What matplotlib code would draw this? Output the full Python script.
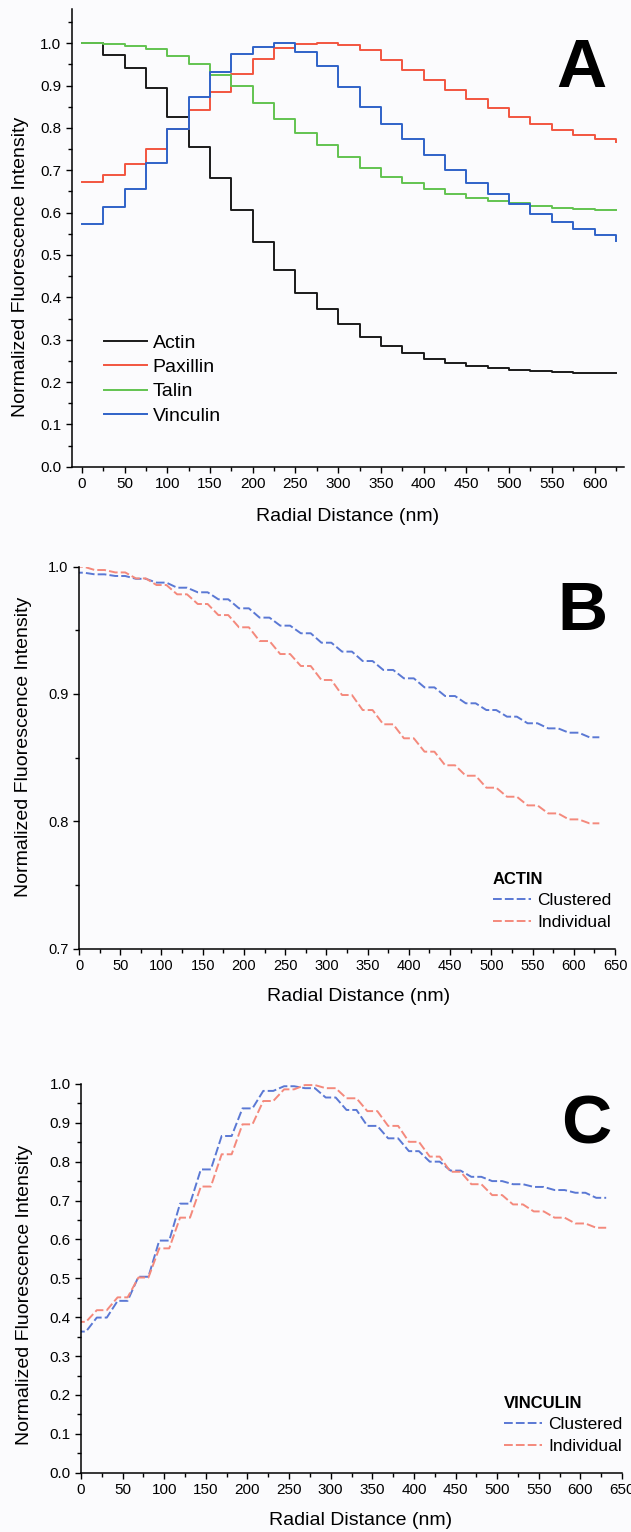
import numpy as np
import matplotlib
matplotlib.use("Agg")
import matplotlib.pyplot as plt
from matplotlib.ticker import MultipleLocator

plt.rcParams['font.family'] = ['Liberation Sans', 'DejaVu Sans']

# -------------------------------
# Data
# -------------------------------
radial = np.arange(0, 626, 25)

# Panel A
actin = [1.0, 0.972, 0.941, 0.894, 0.827, 0.756, 0.681, 0.606, 0.530, 0.465,
         0.411, 0.372, 0.337, 0.307, 0.285, 0.269, 0.255, 0.246, 0.238, 0.232,
         0.228, 0.225, 0.223, 0.222, 0.221, 0.221]
paxillin = [0.673, 0.689, 0.714, 0.750, 0.797, 0.842, 0.886, 0.927, 0.962, 0.988,
            0.998, 1.0, 0.997, 0.984, 0.960, 0.937, 0.913, 0.890, 0.868, 0.846,
            0.827, 0.809, 0.795, 0.783, 0.775, 0.767]
talin = [1.0, 0.998, 0.994, 0.987, 0.971, 0.950, 0.926, 0.898, 0.860, 0.821,
         0.789, 0.760, 0.732, 0.706, 0.685, 0.669, 0.656, 0.644, 0.635, 0.628,
         0.622, 0.616, 0.612, 0.609, 0.607, 0.606]
vinculin = [0.573, 0.614, 0.657, 0.717, 0.797, 0.874, 0.931, 0.975, 0.992, 1.0,
            0.980, 0.946, 0.896, 0.850, 0.809, 0.773, 0.735, 0.701, 0.671, 0.644,
            0.620, 0.597, 0.578, 0.561, 0.547, 0.534]

# Panel B (actin)
actin_clustered = [0.9953, 0.9940, 0.9927, 0.9905, 0.9875, 0.9835, 0.9799, 0.9744,
                   0.9673, 0.9600, 0.9537, 0.9477, 0.9403, 0.9333, 0.9259, 0.9189,
                   0.9123, 0.9052, 0.8984, 0.8927, 0.8874, 0.8822, 0.8770, 0.8730,
                   0.8696, 0.8660]
actin_individual = [1.0, 0.9974, 0.9955, 0.9908, 0.9856, 0.9783, 0.9707, 0.9620,
                    0.9524, 0.9416, 0.9314, 0.9220, 0.9110, 0.8992, 0.8874, 0.8762,
                    0.8652, 0.8547, 0.8440, 0.8358, 0.8264, 0.8193, 0.8125, 0.8062,
                    0.8015, 0.7984]

# Panel C (vinculin)
vinc_clustered = [0.363, 0.399, 0.442, 0.504, 0.597, 0.692, 0.780, 0.866, 0.937,
                  0.982, 0.994, 0.989, 0.965, 0.933, 0.892, 0.860, 0.827, 0.800,
                  0.777, 0.761, 0.750, 0.742, 0.735, 0.727, 0.720, 0.707]
vinc_individual = [0.388, 0.418, 0.451, 0.502, 0.577, 0.656, 0.736, 0.819, 0.896,
                   0.956, 0.986, 0.997, 0.989, 0.963, 0.930, 0.892, 0.851, 0.813,
                   0.774, 0.742, 0.714, 0.690, 0.672, 0.656, 0.641, 0.630]


def plateau(x, y, w=6):
    # each point drawn as a short flat segment, joined to the next one
    x = np.asarray(x, dtype=float)
    xs = np.column_stack([x - w, x + w]).ravel()
    ys = np.repeat(np.asarray(y, dtype=float), 2)
    return xs, ys


def style_axes(ax, tick_size, tick_family=None):
    ax.spines['top'].set_visible(False)
    ax.spines['right'].set_visible(False)
    ax.spines['left'].set_linewidth(1.1)
    ax.spines['bottom'].set_linewidth(1.1)
    ax.set_facecolor('none')
    ax.tick_params(which='major', direction='out', length=4.5, width=1.0,
                   labelsize=tick_size, pad=3)
    ax.tick_params(which='minor', direction='out', length=2.6, width=1.0)
    if tick_family:
        for lab in ax.get_xticklabels() + ax.get_yticklabels():
            lab.set_family(tick_family)


W, H = 631, 1532
fig = plt.figure(figsize=(W / 100, H / 100), dpi=100)
fig.patch.set_facecolor('#fbfbfd')


def axes_px(left, top, right, bottom):
    return fig.add_axes([left / W, 1 - bottom / H, (right - left) / W, (bottom - top) / H])


# -------------------------------
# Panel A
# -------------------------------
axA = axes_px(71.6, 9.4, 623.6, 466.7)
axA.plot(radial, actin, drawstyle='steps-post', color='#1a1a1a', lw=1.4, label='Actin')
axA.plot(radial, paxillin, drawstyle='steps-post', color='#f2553f', lw=1.4, label='Paxillin')
axA.plot(radial, talin, drawstyle='steps-post', color='#62c350', lw=1.4, label='Talin')
axA.plot(radial, vinculin, drawstyle='steps-post', color='#2f62c8', lw=1.4, label='Vinculin')
axA.set_xlim(-12, 634)
axA.set_ylim(0, 1.08)
axA.set_xticks(np.arange(0, 601, 50))
axA.xaxis.set_minor_locator(MultipleLocator(25))
axA.set_yticks(np.arange(0, 1.01, 0.1))
axA.yaxis.set_minor_locator(MultipleLocator(0.05))
axA.set_yticklabels([f"{v:.1f}" for v in np.arange(0, 1.01, 0.1)])
style_axes(axA, 11)
axA.set_xlabel("Radial Distance (nm)", fontsize=14, va='center')
axA.set_ylabel("Normalized Fluorescence Intensity", fontsize=14, va='center')
axA.xaxis.set_label_coords(0.5, -0.109)
axA.yaxis.set_label_coords(-0.093, 0.436)
axA.legend(loc='upper left', bbox_to_anchor=(104 / W, 1 - 334 / H),
           bbox_transform=fig.transFigure, frameon=False, fontsize=14,
           borderpad=0, borderaxespad=0, labelspacing=0.35,
           handlelength=2.2, handletextpad=0.3)
fig.text(581.5 / W, 1 - 87 / H, "A", fontsize=50, fontweight='bold',
         ha='center', va='baseline')

# -------------------------------
# Panel B
# -------------------------------
axB = axes_px(79, 566.7, 615, 948.6)
xs, ys = plateau(radial, actin_clustered)
axB.plot(xs, ys, color='#5a78d4', lw=1.4, dashes=(4.5, 1.6), label='Clustered')
xs, ys = plateau(radial, actin_individual)
axB.plot(xs, ys, color='#f4897c', lw=1.4, dashes=(4.5, 1.6), label='Individual')
axB.set_xlim(0, 650)
axB.set_ylim(0.7, 1.0)
axB.set_xticks(np.arange(0, 651, 50))
axB.xaxis.set_minor_locator(MultipleLocator(25))
axB.set_yticks([0.7, 0.8, 0.9, 1.0])
axB.set_yticklabels(["0.7", "0.8", "0.9", "1.0"])
axB.yaxis.set_minor_locator(MultipleLocator(0.05))
style_axes(axB, 10.5, ['Liberation Sans Narrow', 'Liberation Sans'])
axB.set_xlabel("Radial Distance (nm)", fontsize=14, va='center')
axB.set_ylabel("Normalized Fluorescence Intensity", fontsize=14, va='center')
axB.xaxis.set_label_coords(0.522, -0.126)
axB.yaxis.set_label_coords(-0.103, 0.528)
axB.legend(loc='upper left', bbox_to_anchor=(493 / W, 1 - 872 / H),
           bbox_transform=fig.transFigure, frameon=False, fontsize=12.5,
           title='ACTIN', title_fontproperties={'weight': 'bold', 'size': 12},
           alignment='left', borderpad=0, borderaxespad=0, labelspacing=0.36,
           handlelength=2.2, handletextpad=0.35)
fig.text(582 / W, 1 - 630 / H, "B", fontsize=50, fontweight='bold',
         ha='center', va='baseline')

# -------------------------------
# Panel C
# -------------------------------
axC = axes_px(81, 1083.9, 622, 1472.7)
xs, ys = plateau(radial, vinc_clustered)
axC.plot(xs, ys, color='#5a78d4', lw=1.4, dashes=(4.5, 1.6), label='Clustered')
xs, ys = plateau(radial, vinc_individual)
axC.plot(xs, ys, color='#f4897c', lw=1.4, dashes=(4.5, 1.6), label='Individual')
axC.set_xlim(0, 650)
axC.set_ylim(0, 1.0)
axC.set_xticks(np.arange(0, 651, 50))
axC.xaxis.set_minor_locator(MultipleLocator(25))
axC.set_yticks(np.arange(0, 1.01, 0.1))
axC.set_yticklabels([f"{v:.1f}" for v in np.arange(0, 1.01, 0.1)])
axC.yaxis.set_minor_locator(MultipleLocator(0.05))
style_axes(axC, 11)
axC.set_xlabel("Radial Distance (nm)", fontsize=14, va='center')
axC.set_ylabel("Normalized Fluorescence Intensity", fontsize=14, va='center')
axC.xaxis.set_label_coords(0.516, -0.122)
axC.yaxis.set_label_coords(-0.105, 0.457)
axC.legend(loc='upper left', bbox_to_anchor=(504 / W, 1 - 1396 / H),
           bbox_transform=fig.transFigure, frameon=False, fontsize=12.5,
           title='VINCULIN', title_fontproperties={'weight': 'bold', 'size': 12},
           alignment='left', borderpad=0, borderaxespad=0, labelspacing=0.36,
           handlelength=2.2, handletextpad=0.35)
fig.text(586 / W, 1 - 1143 / H, "C", fontsize=50, fontweight='bold',
         ha='center', va='baseline')

plt.savefig("out.png", dpi=100, facecolor=fig.get_facecolor())
